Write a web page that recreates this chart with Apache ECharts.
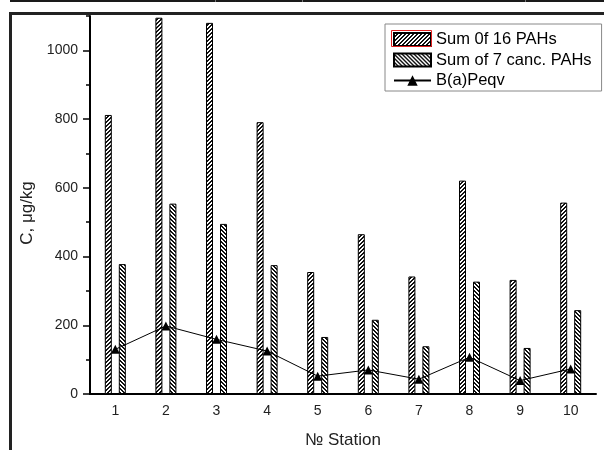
<!DOCTYPE html>
<html>
<head>
<meta charset="utf-8">
<script src="https://cdn.jsdelivr.net/npm/echarts@6/dist/echarts.min.js"></script>
<style>
  html, body { margin: 0; padding: 0; background: #fff; }
  #chart { width: 604px; height: 450px; }
</style>
</head>
<body>
<div id="chart"></div>
<script>
const stations = ['1', '2', '3', '4', '5', '6', '7', '8', '9', '10'];
const sum16 = [812, 1095, 1080, 791, 355, 465, 342, 621, 332, 557];
const sum7 = [378, 554, 495, 375, 166, 216, 139, 327, 134, 244];
const bapEqv = [130, 198, 159, 125, 52, 70, 43, 107, 39, 73];
const yMajorTicks = [0, 200, 400, 600, 800, 1000];
const seriesNames = ['Sum 0f 16 PAHs', 'Sum of 7 canc. PAHs', 'B(a)Peqv'];

// small repeating hatch tile, dir 1 = "/", -1 = "\"
const hatch = (dir) => {
  const c = document.createElement('canvas');
  c.width = 4;
  c.height = 4;
  const ctx = c.getContext('2d');
  ctx.fillStyle = '#fff';
  ctx.fillRect(0, 0, 4, 4);
  ctx.fillStyle = '#111';
  for (let i = 0; i < 4; i++) {
    const y = dir > 0 ? 3 - i : i;
    ctx.fillRect(i, y, 1, 1);
    ctx.fillRect(i, (y + 1) % 4, 1, 1);
  }
  return c;
};

const chart = echarts.init(document.getElementById('chart'));
const font = 'Liberation Sans, Arial, sans-serif';

const option = {
  backgroundColor: '#fff',
  animation: false,
  textStyle: { fontFamily: font },
  graphic: [
    { type: 'rect', shape: { x: 10, y: 0, width: 594, height: 2 }, style: { fill: '#1a1a1a' } },
    { type: 'rect', shape: { x: 215, y: 0, width: 1, height: 2 }, style: { fill: '#777' } },
    { type: 'rect', shape: { x: 302, y: 0, width: 1, height: 2 }, style: { fill: '#777' } },
    { type: 'rect', shape: { x: 525, y: 0, width: 1, height: 2 }, style: { fill: '#777' } },
    { type: 'rect', shape: { x: 9, y: 12, width: 595, height: 3 }, style: { fill: '#222' } },
    { type: 'rect', shape: { x: 9, y: 12, width: 3, height: 438 }, style: { fill: '#222' } },
    // red selection outline round the first legend swatch
    { type: 'rect', z: 100, shape: { x: 391.5, y: 30.5, width: 40, height: 16 }, style: { fill: null, stroke: '#e02020', lineWidth: 1 } }
  ],
  legend: {
    orient: 'vertical',
    left: 385,
    top: 24,
    padding: [7, 10, 2, 8],
    itemGap: 3.5,
    itemWidth: 37,
    itemHeight: 13,
    borderColor: '#888',
    borderWidth: 1,
    backgroundColor: '#fff',
    textStyle: { fontSize: 16.5, lineHeight: 17, color: '#000', fontFamily: font },
    data: [
      { name: seriesNames[0], icon: 'rect' },
      { name: seriesNames[1], icon: 'rect' },
      { name: seriesNames[2] }
    ]
  },
  grid: {
    left: 90,
    right: 8,
    top: 16,
    bottom: 56,
    outerBoundsMode: 'none'
  },
  xAxis: [{
    type: 'category',
    data: stations,
    boundaryGap: true,
    name: '№ Station',
    nameLocation: 'middle',
    nameGap: 38,
    nameTextStyle: { fontSize: 17, color: '#222', fontFamily: font },
    axisLine: { lineStyle: { color: '#000', width: 2 } },
    axisTick: { alignWithLabel: true, length: 6, lineStyle: { color: '#000', width: 1.5 } },
    axisLabel: { margin: 10, fontSize: 14, color: '#222', fontFamily: font },
    splitLine: { show: false }
  }, {
    type: 'category',
    data: stations,
    position: 'bottom',
    boundaryGap: true,
    axisLine: { show: false },
    axisTick: { length: 4, lineStyle: { color: '#000', width: 1.5 } },
    axisLabel: { show: false },
    splitLine: { show: false }
  }],
  yAxis: [{
    type: 'value',
    min: 0,
    max: 1100,
    interval: 200,
    name: 'C, μg/kg',
    nameLocation: 'middle',
    nameGap: 48,
    nameTextStyle: { fontSize: 17, color: '#222', fontFamily: font, padding: [0, 0, 0, -16] },
    axisLine: { show: true, lineStyle: { color: '#000', width: 2 } },
    axisTick: { show: true, customValues: yMajorTicks, length: 7, lineStyle: { color: '#000', width: 1.5 } },
    axisLabel: {
      customValues: yMajorTicks,
      margin: 12,
      fontSize: 14,
      color: '#222',
      fontFamily: font,
      formatter: (v) => String(v)
    },
    splitLine: { show: false }
  }, {
    type: 'value',
    min: 0,
    max: 1100,
    interval: 100,
    position: 'left',
    axisLine: { show: false },
    axisTick: { show: true, length: 4, lineStyle: { color: '#000', width: 1.5 } },
    axisLabel: { show: false },
    splitLine: { show: false }
  }],
  series: [{
    name: seriesNames[0],
    type: 'bar',
    data: sum16,
    barWidth: 7,
    barGap: '100%',
    itemStyle: {
      color: { image: hatch(1), repeat: 'repeat' },
      borderColor: '#000',
      borderWidth: 1
    }
  }, {
    name: seriesNames[1],
    type: 'bar',
    data: sum7,
    barWidth: 7,
    barGap: '100%',
    itemStyle: {
      color: { image: hatch(-1), repeat: 'repeat' },
      borderColor: '#000',
      borderWidth: 1
    }
  }, {
    name: seriesNames[2],
    type: 'line',
    data: bapEqv,
    symbol: 'triangle',
    symbolSize: 9,
    z: 10,
    itemStyle: { color: '#000' },
    lineStyle: { color: '#000', width: 1 }
  }]
};

chart.setOption(option);
</script>
</body>
</html>
